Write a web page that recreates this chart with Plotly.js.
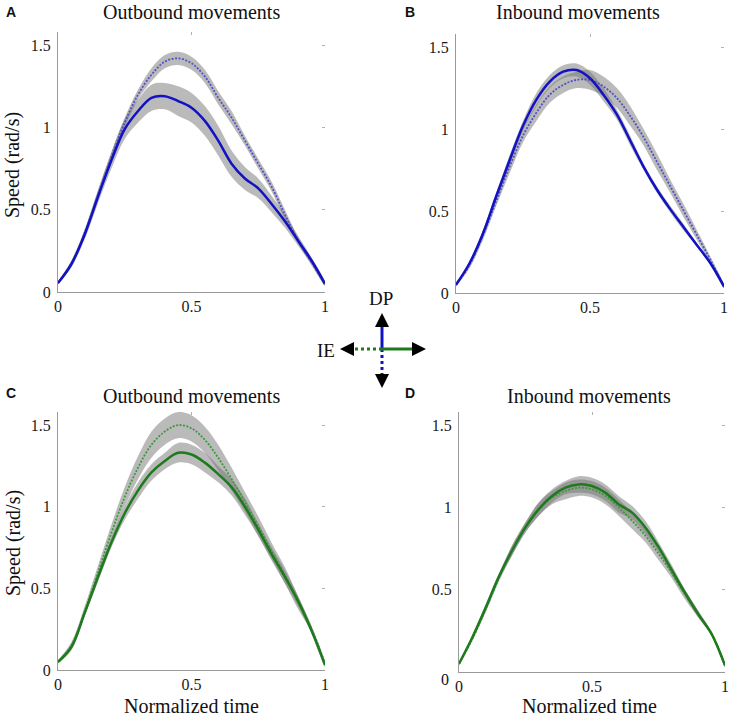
<!DOCTYPE html>
<html>
<head>
<meta charset="utf-8">
<script src="https://cdn.plot.ly/plotly-3.0.1.min.js"></script>
<style>
  html, body { margin: 0; padding: 0; background: #fff; }
  #chart { width: 734px; height: 718px; }
</style>
</head>
<body>
<div id="chart"></div>
<script>
// normalized time samples
var t = [0, 0.05, 0.1, 0.15, 0.2, 0.25, 0.3, 0.35, 0.4, 0.45, 0.5,
         0.55, 0.6, 0.65, 0.7, 0.75, 0.8, 0.85, 0.9, 0.95, 1];

// A: outbound, DP (blue)
var aSolid   = [0.055, 0.17, 0.35, 0.58, 0.80, 0.99, 1.10, 1.18, 1.19, 1.16, 1.12,
                1.04, 0.92, 0.78, 0.69, 0.63, 0.535, 0.43, 0.31, 0.19, 0.05];
var aSolidSd = [0.01, 0.02, 0.03, 0.04, 0.05, 0.06, 0.07, 0.08, 0.08, 0.09, 0.09,
                0.09, 0.09, 0.08, 0.07, 0.06, 0.05, 0.04, 0.03, 0.02, 0.01];
var aDot     = [0.055, 0.17, 0.36, 0.59, 0.82, 1.03, 1.20, 1.32, 1.40, 1.42, 1.39,
                1.31, 1.18, 1.06, 0.92, 0.78, 0.64, 0.47, 0.31, 0.18, 0.05];
var aDotSd   = [0.01, 0.02, 0.02, 0.03, 0.03, 0.03, 0.03, 0.04, 0.04, 0.04, 0.04,
                0.04, 0.04, 0.04, 0.03, 0.03, 0.03, 0.03, 0.02, 0.02, 0.01];

// B: inbound, DP (blue)
var bSolid   = [0.05, 0.18, 0.36, 0.59, 0.81, 1.02, 1.18, 1.29, 1.35, 1.36, 1.31,
                1.21, 1.09, 0.93, 0.77, 0.63, 0.51, 0.40, 0.29, 0.18, 0.04];
var bSolidSd = [0.01, 0.01, 0.02, 0.02, 0.03, 0.03, 0.04, 0.04, 0.04, 0.04, 0.04,
                0.04, 0.03, 0.03, 0.02, 0.02, 0.02, 0.02, 0.01, 0.01, 0.01];
var bDot     = [0.05, 0.17, 0.35, 0.56, 0.77, 0.96, 1.10, 1.21, 1.27, 1.30, 1.30,
                1.26, 1.19, 1.08, 0.95, 0.80, 0.65, 0.50, 0.35, 0.20, 0.04];
var bDotSd   = [0.01, 0.02, 0.03, 0.03, 0.04, 0.04, 0.05, 0.05, 0.05, 0.05, 0.06,
                0.06, 0.06, 0.06, 0.05, 0.05, 0.04, 0.04, 0.03, 0.02, 0.01];

// C: outbound, IE (green)
var cSolid   = [0.05, 0.14, 0.35, 0.57, 0.78, 0.96, 1.10, 1.21, 1.28, 1.33, 1.32,
                1.27, 1.20, 1.12, 1.00, 0.86, 0.71, 0.57, 0.42, 0.24, 0.03];
var cSolidSd = [0.01, 0.02, 0.02, 0.03, 0.03, 0.04, 0.05, 0.05, 0.05, 0.06, 0.06,
                0.06, 0.05, 0.05, 0.05, 0.04, 0.04, 0.04, 0.03, 0.02, 0.01];
var cDot     = [0.05, 0.15, 0.36, 0.60, 0.84, 1.06, 1.24, 1.38, 1.46, 1.50, 1.48,
                1.41, 1.30, 1.17, 1.03, 0.88, 0.73, 0.58, 0.41, 0.25, 0.04];
var cDotSd   = [0.01, 0.02, 0.03, 0.04, 0.05, 0.06, 0.07, 0.08, 0.08, 0.08, 0.08,
                0.08, 0.08, 0.07, 0.06, 0.06, 0.05, 0.05, 0.04, 0.02, 0.01];

// D: inbound, IE (green)
var dSolid   = [0.05, 0.21, 0.39, 0.58, 0.74, 0.88, 0.99, 1.07, 1.12, 1.14, 1.13,
                1.09, 1.02, 0.97, 0.88, 0.76, 0.62, 0.48, 0.35, 0.23, 0.04];
var dSolidSd = [0.01, 0.01, 0.02, 0.02, 0.03, 0.03, 0.04, 0.04, 0.04, 0.05, 0.05,
                0.05, 0.05, 0.04, 0.04, 0.03, 0.03, 0.02, 0.02, 0.01, 0.01];
var dDot     = [0.05, 0.20, 0.38, 0.57, 0.74, 0.88, 0.99, 1.06, 1.10, 1.12, 1.11,
                1.07, 1.00, 0.92, 0.83, 0.72, 0.60, 0.47, 0.35, 0.23, 0.04];
var dDotSd   = [0.01, 0.01, 0.02, 0.02, 0.03, 0.03, 0.04, 0.04, 0.05, 0.05, 0.05,
                0.05, 0.05, 0.05, 0.04, 0.04, 0.03, 0.03, 0.02, 0.01, 0.01];

var xTicks = [0, 0.5, 1];
var xTickText = ['0', '0.5', '1'];
var yTicks = [0, 0.5, 1, 1.5];
var yTickText = ['0', '0.5', '1', '1.5'];

var BLUE = '#1212c4', BLUE_DOT = '#5050c8';
var GREEN = '#1d7a1d', GREEN_DOT = '#3c9a3c';
var BAND = 'rgba(110,110,110,0.48)';
var SERIF = 'Liberation Serif';

function band(mean, sd, xa, ya) {
  var up = mean.map(function (v, i) { return v + sd[i]; });
  var lo = mean.map(function (v, i) { return v - sd[i]; });
  return {
    type: 'scatter', mode: 'lines', x: t.concat(t.slice().reverse()),
    y: up.concat(lo.reverse()), fill: 'toself', fillcolor: BAND,
    line: { width: 0, shape: 'spline', color: 'rgba(0,0,0,0)' },
    xaxis: xa, yaxis: ya, hoverinfo: 'skip'
  };
}

function curve(y, color, dash, width, xa, ya) {
  return {
    type: 'scatter', mode: 'lines', x: t, y: y,
    line: { color: color, width: width, dash: dash, shape: 'spline' },
    xaxis: xa, yaxis: ya
  };
}

var panels = [
  { s: aSolid, ss: aSolidSd, d: aDot, ds: aDotSd, c: BLUE, cd: BLUE_DOT },
  { s: bSolid, ss: bSolidSd, d: bDot, ds: bDotSd, c: BLUE, cd: BLUE_DOT },
  { s: cSolid, ss: cSolidSd, d: cDot, ds: cDotSd, c: GREEN, cd: GREEN_DOT },
  { s: dSolid, ss: dSolidSd, d: dDot, ds: dDotSd, c: GREEN, cd: GREEN_DOT }
];

var traces = [];
panels.forEach(function (p, i) {
  var xa = 'x' + (i ? i + 1 : ''), ya = 'y' + (i ? i + 1 : '');
  traces.push(band(p.d, p.ds, xa, ya));
  traces.push(band(p.s, p.ss, xa, ya));
  traces.push(curve(p.d, p.cd, '2px,1.5px', 1.8, xa, ya));
  traces.push(curve(p.s, p.c, 'solid', 2.5, xa, ya));
  // empty trace so the mirrored tick axes get drawn
  traces.push({ type: 'scatter', x: [], y: [], xaxis: 'x' + (i + 5), yaxis: 'y' + (i + 5), hoverinfo: 'skip' });
});

// domains in pixels -> paper
var W = 734, H = 718;
function px(a, b) { return [a / W, b / W]; }
function py(bottom, top) { return [1 - bottom / H, 1 - top / H]; }
var xDom = [px(58, 325), px(456, 724), px(58, 325), px(459, 725)];
var yDom = [py(292, 32), py(293, 34), py(670, 412), py(672, 412)];

var layout = {
  width: W, height: H,
  margin: { l: 0, r: 0, t: 0, b: 0 },
  paper_bgcolor: '#ffffff', plot_bgcolor: 'rgba(0,0,0,0)',
  showlegend: false,
  font: { family: SERIF, color: '#1a1a1a' },
  annotations: [], shapes: []
};

for (var i = 0; i < 4; i++) {
  var n = i ? i + 1 : '';
  layout['xaxis' + n] = {
    domain: xDom[i], anchor: 'y' + n, range: [0, 1],
    tickvals: xTicks, ticktext: xTickText,
    showline: true, linecolor: '#9a9a9a', linewidth: 1,
    ticks: '', showgrid: false, zeroline: false,
    tickfont: { family: SERIF, size: 16, color: '#1a1a1a' }
  };
  layout['yaxis' + n] = {
    domain: yDom[i], anchor: 'x' + n, range: [0, 1.58],
    tickvals: yTicks,
    // panel D draws its "0" a little lower (see annotation below)
    ticktext: i === 3 ? [''].concat(yTickText.slice(1)) : yTickText,
    showline: true, linecolor: '#9a9a9a', linewidth: 1,
    ticks: 'outside', ticklen: 3, tickcolor: 'rgba(0,0,0,0)',
    showgrid: false, zeroline: false,
    tickfont: { family: SERIF, size: 16, color: '#1a1a1a' }
  };
  // mirrored small ticks (top and right), no axis line
  layout['xaxis' + (i + 5)] = {
    overlaying: 'x' + n, side: 'top', anchor: 'y' + (i + 5), range: [0, 1],
    tickvals: [0.5], ticks: 'inside', ticklen: 3, tickcolor: '#b0b0b0',
    showticklabels: false, showline: false, showgrid: false, zeroline: false
  };
  layout['yaxis' + (i + 5)] = {
    overlaying: 'y' + n, side: 'right', anchor: 'x' + (i + 5), range: [0, 1.58],
    tickvals: [0.5, 1, 1.5], ticks: 'inside', ticklen: 3, tickcolor: '#b0b0b0',
    showticklabels: false, showline: false, showgrid: false, zeroline: false
  };
}

function note(text, x, y, size, opts) {
  var a = {
    text: text, xref: 'paper', yref: 'paper', x: x / W, y: 1 - y / H,
    xanchor: 'center', yanchor: 'middle', showarrow: false,
    font: { family: SERIF, size: size, color: '#111' }
  };
  for (var k in opts) a[k] = opts[k];
  return a;
}

var titles = ['Outbound movements', 'Inbound movements', 'Outbound movements', 'Inbound movements'];
var titlePos = [[191, 12], [578, 12], [191, 396], [589, 396]];
titles.forEach(function (s, i) {
  layout.annotations.push(note(s, titlePos[i][0], titlePos[i][1], 20));
});

var letters = ['A', 'B', 'C', 'D'];
var letterPos = [[11, 12], [410, 12], [11, 393], [410, 393]];
letters.forEach(function (s, i) {
  layout.annotations.push(note('<b>' + s + '</b>', letterPos[i][0], letterPos[i][1], 14,
    { font: { family: 'Liberation Sans', size: 14, color: '#111' } }));
});

layout.annotations.push(note('Speed (rad/s)', 13, 165, 20, { textangle: -90 }));
layout.annotations.push(note('Speed (rad/s)', 13, 543, 20, { textangle: -90 }));
layout.annotations.push(note('Normalized time', 191, 706, 20));
layout.annotations.push(note('Normalized time', 589, 706, 20));
layout.annotations.push(note('0', 445, 679, 16));

// direction legend (DP / IE cross)
var cx = 382, cy = 349;
layout.annotations.push(note('DP', 381, 299, 19));
layout.annotations.push(note('IE', 326, 350, 19));

function seg(x0, y0, x1, y1, color, dash) {
  return {
    type: 'line', xref: 'paper', yref: 'paper',
    x0: x0 / W, y0: 1 - y0 / H, x1: x1 / W, y1: 1 - y1 / H,
    line: { color: color, width: 3, dash: dash }
  };
}
layout.shapes.push(seg(cx, cy, cx, 322, BLUE, 'solid'));
layout.shapes.push(seg(cx, cy, cx, 378, BLUE, 'dot'));
layout.shapes.push(seg(cx, cy, 416, cy, GREEN, 'solid'));
layout.shapes.push(seg(cx, cy, 350, cy, GREEN, 'dot'));

function head(x, y, ax, ay) {
  return {
    xref: 'paper', yref: 'paper', x: x / W, y: 1 - y / H, ax: ax, ay: ay,
    text: '', showarrow: true, arrowhead: 2, arrowsize: 1.4, arrowwidth: 2,
    arrowcolor: '#000'
  };
}
layout.annotations.push(head(cx, 313, 0, 10));
layout.annotations.push(head(cx, 388, 0, -10));
layout.annotations.push(head(426, cy, -10, 0));
layout.annotations.push(head(340, cy, 10, 0));

Plotly.newPlot('chart', traces, layout, { staticPlot: true, displayModeBar: false });
</script>
</body>
</html>
